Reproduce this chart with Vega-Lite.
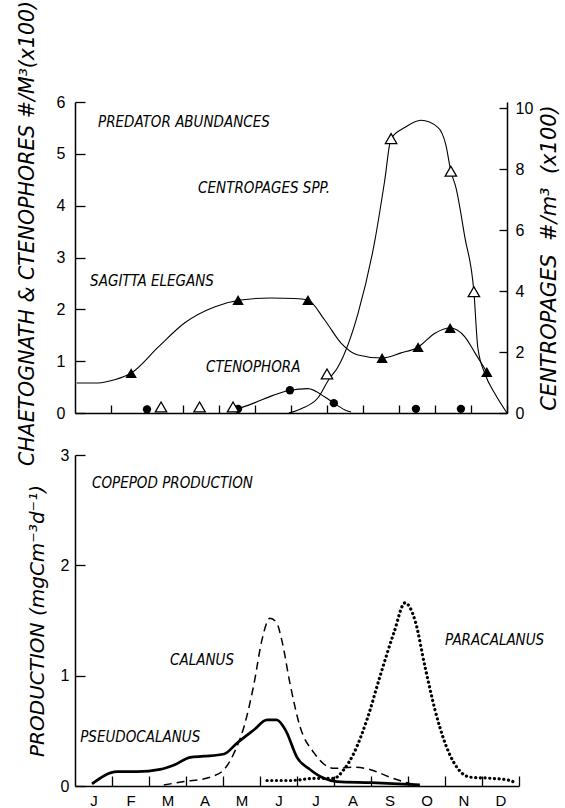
{
  "$schema": "https://vega.github.io/schema/vega-lite/v6.json",
  "background": "white",
  "padding": {"left": 17, "top": 0, "right": 2, "bottom": 2},
  "bounds": "flush",
  "spacing": 42,
  "config": {
    "view": {"stroke": null},
    "axis": {
      "grid": false, "domainColor": "black", "tickColor": "black", "labelColor": "black", "titleColor": "black",
      "labelFont": "Liberation Sans", "labelFontSize": 16, "labelFlush": false, "labelOverlap": false,
      "titleFont": "DejaVu Sans", "titleFontStyle": "italic", "titleFontWeight": "normal", "titleFontSize": 20.5,
      "domainWidth": 1.5, "tickWidth": 1.3, "tickSize": 1
    },
    "text": {"font": "DejaVu Sans Condensed", "fontStyle": "italic", "fontSize": 15, "align": "left", "baseline": "middle", "color": "black"}
  },
  "datasets": {
    "curves": [
      {"series": "sagitta", "month": 0.05, "value": 0.58},
      {"series": "sagitta", "month": 0.64, "value": 0.58},
      {"series": "sagitta", "month": 1.1, "value": 0.64},
      {"series": "sagitta", "month": 1.56, "value": 0.77},
      {"series": "sagitta", "month": 2.31, "value": 1.27},
      {"series": "sagitta", "month": 3.05, "value": 1.74},
      {"series": "sagitta", "month": 3.89, "value": 2.05},
      {"series": "sagitta", "month": 4.6, "value": 2.18},
      {"series": "sagitta", "month": 5.44, "value": 2.22},
      {"series": "sagitta", "month": 6.1, "value": 2.21},
      {"series": "sagitta", "month": 6.47, "value": 2.18},
      {"series": "sagitta", "month": 6.94, "value": 1.79},
      {"series": "sagitta", "month": 7.39, "value": 1.35},
      {"series": "sagitta", "month": 7.86, "value": 1.12},
      {"series": "sagitta", "month": 8.53, "value": 1.06},
      {"series": "sagitta", "month": 9.06, "value": 1.16},
      {"series": "sagitta", "month": 9.53, "value": 1.27},
      {"series": "sagitta", "month": 10.0, "value": 1.54},
      {"series": "sagitta", "month": 10.42, "value": 1.64},
      {"series": "sagitta", "month": 10.83, "value": 1.47},
      {"series": "sagitta", "month": 11.11, "value": 1.16},
      {"series": "sagitta", "month": 11.44, "value": 0.79},
      {"series": "cteno", "month": 4.53, "value": 0.08},
      {"series": "cteno", "month": 5.0, "value": 0.2},
      {"series": "cteno", "month": 5.5, "value": 0.34},
      {"series": "cteno", "month": 5.97, "value": 0.44},
      {"series": "cteno", "month": 6.47, "value": 0.47},
      {"series": "cteno", "month": 6.94, "value": 0.31},
      {"series": "cteno", "month": 7.19, "value": 0.19},
      {"series": "cteno", "month": 7.5, "value": 0.06},
      {"series": "cteno", "month": 7.67, "value": 0.02},
      {"series": "centro", "month": 5.94, "value": 0.0},
      {"series": "centro", "month": 6.3, "value": 0.15},
      {"series": "centro", "month": 6.75, "value": 0.5},
      {"series": "centro", "month": 7.05, "value": 1.1},
      {"series": "centro", "month": 7.3, "value": 1.5},
      {"series": "centro", "month": 7.86, "value": 3.26},
      {"series": "centro", "month": 8.33, "value": 5.66},
      {"series": "centro", "month": 8.6, "value": 7.6},
      {"series": "centro", "month": 8.78, "value": 9.0},
      {"series": "centro", "month": 9.17, "value": 9.37},
      {"series": "centro", "month": 9.61, "value": 9.6},
      {"series": "centro", "month": 10.08, "value": 9.37},
      {"series": "centro", "month": 10.3, "value": 8.8},
      {"series": "centro", "month": 10.44, "value": 7.93},
      {"series": "centro", "month": 10.58, "value": 7.4},
      {"series": "centro", "month": 10.83, "value": 5.76},
      {"series": "centro", "month": 11.08, "value": 3.98},
      {"series": "centro", "month": 11.19, "value": 2.14},
      {"series": "centro", "month": 11.39, "value": 1.28},
      {"series": "centro", "month": 11.67, "value": 0.62},
      {"series": "centro", "month": 12.0, "value": 0.0},
      {"series": "pseudo", "month": 0.46, "value": 0.02},
      {"series": "pseudo", "month": 1.14, "value": 0.13},
      {"series": "pseudo", "month": 1.68, "value": 0.13},
      {"series": "pseudo", "month": 2.3, "value": 0.15},
      {"series": "pseudo", "month": 2.68, "value": 0.19},
      {"series": "pseudo", "month": 3.11, "value": 0.26},
      {"series": "pseudo", "month": 3.49, "value": 0.27},
      {"series": "pseudo", "month": 4.03, "value": 0.29},
      {"series": "pseudo", "month": 4.38, "value": 0.39},
      {"series": "pseudo", "month": 4.84, "value": 0.51},
      {"series": "pseudo", "month": 5.19, "value": 0.6},
      {"series": "pseudo", "month": 5.45, "value": 0.6},
      {"series": "pseudo", "month": 5.7, "value": 0.5},
      {"series": "pseudo", "month": 6.0, "value": 0.26},
      {"series": "pseudo", "month": 6.35, "value": 0.15},
      {"series": "pseudo", "month": 6.73, "value": 0.07},
      {"series": "pseudo", "month": 7.08, "value": 0.04},
      {"series": "pseudo", "month": 8.0, "value": 0.03},
      {"series": "pseudo", "month": 9.32, "value": 0.01},
      {"series": "calanus", "month": 2.4, "value": 0.01},
      {"series": "calanus", "month": 2.95, "value": 0.04},
      {"series": "calanus", "month": 3.65, "value": 0.08},
      {"series": "calanus", "month": 4.03, "value": 0.15},
      {"series": "calanus", "month": 4.3, "value": 0.3},
      {"series": "calanus", "month": 4.57, "value": 0.54},
      {"series": "calanus", "month": 4.84, "value": 0.93},
      {"series": "calanus", "month": 5.05, "value": 1.32},
      {"series": "calanus", "month": 5.27, "value": 1.52},
      {"series": "calanus", "month": 5.45, "value": 1.48},
      {"series": "calanus", "month": 5.59, "value": 1.32},
      {"series": "calanus", "month": 5.81, "value": 0.93},
      {"series": "calanus", "month": 6.08, "value": 0.54},
      {"series": "calanus", "month": 6.46, "value": 0.3},
      {"series": "calanus", "month": 7.0, "value": 0.16},
      {"series": "calanus", "month": 7.49, "value": 0.17},
      {"series": "calanus", "month": 7.97, "value": 0.15},
      {"series": "calanus", "month": 8.51, "value": 0.08},
      {"series": "calanus", "month": 8.97, "value": 0.03},
      {"series": "calanus", "month": 9.32, "value": 0.0},
      {"series": "para", "month": 5.19, "value": 0.05},
      {"series": "para", "month": 5.81, "value": 0.05},
      {"series": "para", "month": 6.54, "value": 0.07},
      {"series": "para", "month": 7.0, "value": 0.07},
      {"series": "para", "month": 7.27, "value": 0.15},
      {"series": "para", "month": 7.54, "value": 0.3},
      {"series": "para", "month": 7.89, "value": 0.6},
      {"series": "para", "month": 8.24, "value": 0.99},
      {"series": "para", "month": 8.62, "value": 1.39},
      {"series": "para", "month": 8.92, "value": 1.66},
      {"series": "para", "month": 9.19, "value": 1.5},
      {"series": "para", "month": 9.46, "value": 1.08},
      {"series": "para", "month": 9.73, "value": 0.69},
      {"series": "para", "month": 10.0, "value": 0.39},
      {"series": "para", "month": 10.32, "value": 0.17},
      {"series": "para", "month": 10.68, "value": 0.08},
      {"series": "para", "month": 11.22, "value": 0.07},
      {"series": "para", "month": 11.76, "value": 0.05},
      {"series": "para", "month": 11.89, "value": 0.03}
    ],
    "markers": [
      {"series": "sagitta", "month": 1.56, "value": 0.77},
      {"series": "sagitta", "month": 4.53, "value": 2.18},
      {"series": "sagitta", "month": 6.47, "value": 2.18},
      {"series": "sagitta", "month": 8.53, "value": 1.06},
      {"series": "sagitta", "month": 9.53, "value": 1.27},
      {"series": "sagitta", "month": 10.42, "value": 1.64},
      {"series": "sagitta", "month": 11.44, "value": 0.79},
      {"series": "cteno", "month": 2.0, "value": 0.07},
      {"series": "cteno", "month": 4.53, "value": 0.08},
      {"series": "cteno", "month": 5.97, "value": 0.44},
      {"series": "cteno", "month": 7.19, "value": 0.19},
      {"series": "cteno", "month": 9.47, "value": 0.08},
      {"series": "cteno", "month": 10.72, "value": 0.08},
      {"series": "centro", "month": 2.39, "value": 0.2},
      {"series": "centro", "month": 3.46, "value": 0.2},
      {"series": "centro", "month": 4.39, "value": 0.2},
      {"series": "centro", "month": 7.0, "value": 1.28},
      {"series": "centro", "month": 8.78, "value": 9.0},
      {"series": "centro", "month": 10.44, "value": 7.93},
      {"series": "centro", "month": 11.08, "value": 3.98}
    ],
    "labels": [
      {"panel": "top", "month": 0.64, "value": 5.61, "text": "PREDATOR ABUNDANCES"},
      {"panel": "top", "month": 3.42, "value": 4.34, "text": "CENTROPAGES SPP."},
      {"panel": "top", "month": 0.42, "value": 2.55, "text": "SAGITTA ELEGANS"},
      {"panel": "top", "month": 3.64, "value": 0.89, "text": "CTENOPHORA"},
      {"panel": "bottom", "month": 0.46, "value": 2.75, "text": "COPEPOD PRODUCTION"},
      {"panel": "bottom", "month": 2.57, "value": 1.14, "text": "CALANUS"},
      {"panel": "bottom", "month": 0.14, "value": 0.44, "text": "PSEUDOCALANUS"},
      {"panel": "bottom", "month": 10.0, "value": 1.32, "text": "PARACALANUS"}
    ]
  },
  "vconcat": [
    {
      "width": 432,
      "height": 311,
      "encoding": {
        "x": {"field": "month", "type": "quantitative", "scale": {"domain": [0, 12], "nice": false},
              "axis": {"values": [1,2,3,4,5,6,7,8,9,10,11,12], "labels": false, "title": null,
                       "encoding": {"ticks": {"y2": {"value": -8}}}}}
      },
      "layer": [
        {
          "encoding": {
            "y": {"field": "value", "type": "quantitative", "scale": {"domain": [0, 6], "nice": false},
                  "axis": {"values": [0,1,2,3,4,5,6], "labelPadding": 9,
                           "encoding": {"ticks": {"x2": {"value": 10}}},
                           "title": "CHAETOGNATH & CTENOPHORES #/M³(x100)", "titleY": 131, "titlePadding": 19}}
          },
          "layer": [
            {"data": {"name": "curves"}, "transform": [{"filter": "datum.series === 'sagitta'"}],
             "mark": {"type": "line", "color": "black", "strokeWidth": 1.1, "interpolate": "monotone"}},
            {"data": {"name": "curves"}, "transform": [{"filter": "datum.series === 'cteno'"}],
             "mark": {"type": "line", "color": "black", "strokeWidth": 1.1, "interpolate": "monotone"}},
            {"data": {"name": "markers"}, "transform": [{"filter": "datum.series === 'sagitta'"}],
             "mark": {"type": "point", "shape": "triangle-up", "filled": true, "color": "black", "size": 130, "opacity": 1}},
            {"data": {"name": "markers"}, "transform": [{"filter": "datum.series === 'cteno'"}],
             "mark": {"type": "point", "shape": "circle", "filled": true, "color": "black", "size": 70, "opacity": 1}},
            {"data": {"name": "labels"}, "transform": [{"filter": "datum.panel === 'top'"}],
             "mark": {"type": "text"}, "encoding": {"text": {"field": "text"}}}
          ]
        },
        {
          "encoding": {
            "y": {"field": "value", "type": "quantitative", "scale": {"domain": [0, 10.2], "nice": false},
                  "axis": {"orient": "right", "values": [0,2,4,6,8,10], "labelPadding": 7,
                           "encoding": {"ticks": {"x2": {"value": -8}}},
                           "title": "CENTROPAGES\u00a0 #/m³\u00a0 (x100)", "titleFontSize": 21, "titleAngle": 270, "titlePadding": 27}}
          },
          "layer": [
            {"data": {"name": "curves"}, "transform": [{"filter": "datum.series === 'centro'"}],
             "mark": {"type": "line", "color": "black", "strokeWidth": 1.1, "interpolate": "monotone"}},
            {"data": {"name": "markers"}, "transform": [{"filter": "datum.series === 'centro'"}],
             "mark": {"type": "point", "shape": "triangle-up", "filled": true, "fill": "white", "stroke": "black", "strokeWidth": 1.3, "size": 130, "opacity": 1}}
          ]
        }
      ],
      "resolve": {"scale": {"y": "independent"}}
    },
    {
      "width": 444,
      "height": 331,
      "encoding": {
        "x": {"field": "month", "type": "quantitative", "scale": {"domain": [0, 12], "nice": false},
              "axis": {"values": [1,2,3,4,5,6,7,8,9,10,11,12], "labelPadding": 6, "labelOffset": -18.5,
                       "labelFontSize": 15, "title": null,
                       "encoding": {"ticks": {"y2": {"value": -10}}},
                       "labelExpr": "['J','F','M','A','M','J','J','A','S','O','N','D'][datum.value - 1]"}},
        "y": {"field": "value", "type": "quantitative", "scale": {"domain": [0, 3], "nice": false},
              "axis": {"values": [0,1,2,3], "labelPadding": 5,
                       "encoding": {"ticks": {"x2": {"value": 10}}},
                       "title": "PRODUCTION (mgCm⁻³d⁻¹)", "titleFontSize": 20, "titlePadding": 13}}
      },
      "layer": [
        {"data": {"name": "curves"}, "transform": [{"filter": "datum.series === 'calanus'"}],
         "mark": {"type": "line", "color": "black", "strokeWidth": 1.5, "strokeDash": [8, 5], "interpolate": "monotone"}},
        {"data": {"name": "curves"}, "transform": [{"filter": "datum.series === 'para'"}],
         "mark": {"type": "line", "color": "black", "strokeWidth": 3.2, "strokeDash": [0.1, 4.6], "strokeCap": "round", "interpolate": "monotone"}},
        {"data": {"name": "curves"}, "transform": [{"filter": "datum.series === 'pseudo'"}],
         "mark": {"type": "line", "color": "black", "strokeWidth": 2.7, "interpolate": "monotone"}},
        {"data": {"name": "labels"}, "transform": [{"filter": "datum.panel === 'bottom'"}],
         "mark": {"type": "text"}, "encoding": {"text": {"field": "text"}}}
      ]
    }
  ]
}
